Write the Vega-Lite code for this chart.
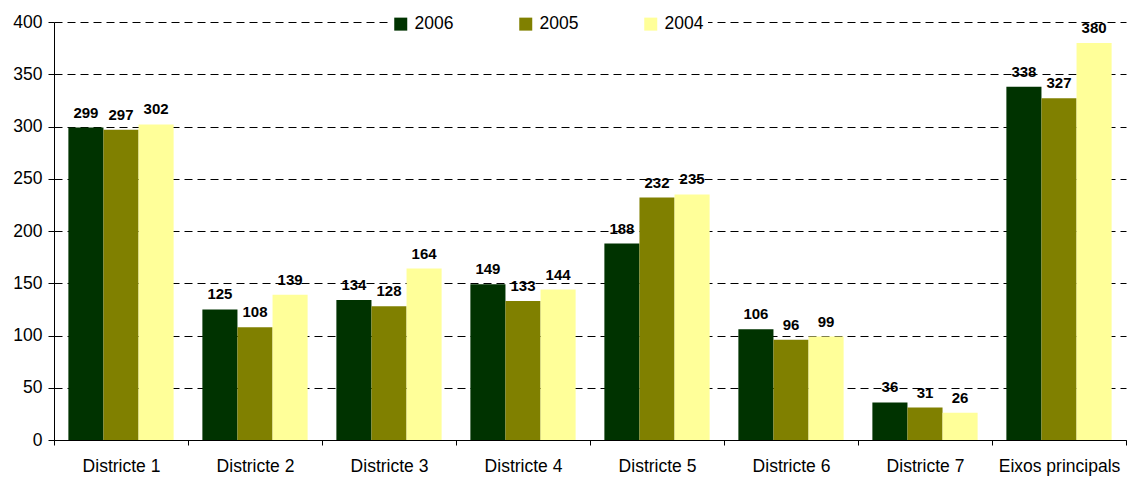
{
  "$schema": "https://vega.github.io/schema/vega-lite/v6.json",
  "width": 1072,
  "height": 418,
  "autosize": {"type": "none"},
  "padding": {"left": 54, "top": 22, "right": 3, "bottom": 37},
  "background": "white",
  "config": {"view": {"stroke": null}, "font": "Liberation Sans"},
  "data": {"values": [
    {"cat": "Districte 1", "year": "2006", "v": 299},
    {"cat": "Districte 1", "year": "2005", "v": 297},
    {"cat": "Districte 1", "year": "2004", "v": 302},
    {"cat": "Districte 2", "year": "2006", "v": 125},
    {"cat": "Districte 2", "year": "2005", "v": 108},
    {"cat": "Districte 2", "year": "2004", "v": 139},
    {"cat": "Districte 3", "year": "2006", "v": 134},
    {"cat": "Districte 3", "year": "2005", "v": 128},
    {"cat": "Districte 3", "year": "2004", "v": 164},
    {"cat": "Districte 4", "year": "2006", "v": 149},
    {"cat": "Districte 4", "year": "2005", "v": 133},
    {"cat": "Districte 4", "year": "2004", "v": 144},
    {"cat": "Districte 5", "year": "2006", "v": 188},
    {"cat": "Districte 5", "year": "2005", "v": 232},
    {"cat": "Districte 5", "year": "2004", "v": 235},
    {"cat": "Districte 6", "year": "2006", "v": 106},
    {"cat": "Districte 6", "year": "2005", "v": 96},
    {"cat": "Districte 6", "year": "2004", "v": 99},
    {"cat": "Districte 7", "year": "2006", "v": 36},
    {"cat": "Districte 7", "year": "2005", "v": 31},
    {"cat": "Districte 7", "year": "2004", "v": 26},
    {"cat": "Eixos principals", "year": "2006", "v": 338},
    {"cat": "Eixos principals", "year": "2005", "v": 327},
    {"cat": "Eixos principals", "year": "2004", "v": 380}
  ]},
  "encoding": {
    "x": {
      "field": "cat", "type": "nominal", "sort": null, "title": null,
      "scale": {"paddingInner": 0, "paddingOuter": 0},
      "axis": {
        "labelAngle": 0, "labelFontSize": 17.5, "labelColor": "#000", "labelPadding": 12,
        "tickBand": "extent", "tickColor": "#000", "tickSize": 5, "domainColor": "#000",
        "grid": false, "labelFont": "Liberation Sans"
      }
    },
    "xOffset": {
      "field": "year", "type": "nominal", "sort": ["2006", "2005", "2004"],
      "scale": {"paddingInner": 0, "paddingOuter": 0.41}
    },
    "y": {
      "field": "v", "type": "quantitative", "title": null,
      "scale": {"domain": [0, 400], "nice": false},
      "axis": {
        "values": [0, 50, 100, 150, 200, 250, 300, 350, 400],
        "labelFontSize": 17.5, "labelColor": "#000", "labelPadding": 6,
        "tickColor": "#000", "tickSize": 6, "domainColor": "#000",
        "grid": true, "gridColor": "#000", "gridDash": [8, 5], "gridWidth": 1,
        "labelFont": "Liberation Sans"
      }
    }
  },
  "layer": [
    {
      "mark": {"type": "bar"},
      "encoding": {
        "color": {
          "field": "year", "type": "nominal", "sort": ["2006", "2005", "2004"],
          "scale": {"domain": ["2006", "2005", "2004"], "range": ["#003300", "#808000", "#FFFF99"]},
          "legend": {
            "title": null, "orient": "none", "direction": "horizontal",
            "legendX": 334, "legendY": -11, "padding": 4, "fillColor": "white",
            "symbolType": "square", "symbolSize": 169, "symbolStrokeWidth": 0, "symbolOpacity": 1,
            "labelFontSize": 17.5, "labelColor": "#000", "labelOffset": 5, "columnPadding": 63,
            "labelFont": "Liberation Sans"
          }
        }
      }
    },
    {
      "mark": {"type": "text", "baseline": "alphabetic", "dy": -10, "fontSize": 15, "fontWeight": "bold", "color": "#000", "font": "Liberation Sans"},
      "encoding": {"text": {"field": "v", "type": "quantitative"}}
    }
  ]
}
